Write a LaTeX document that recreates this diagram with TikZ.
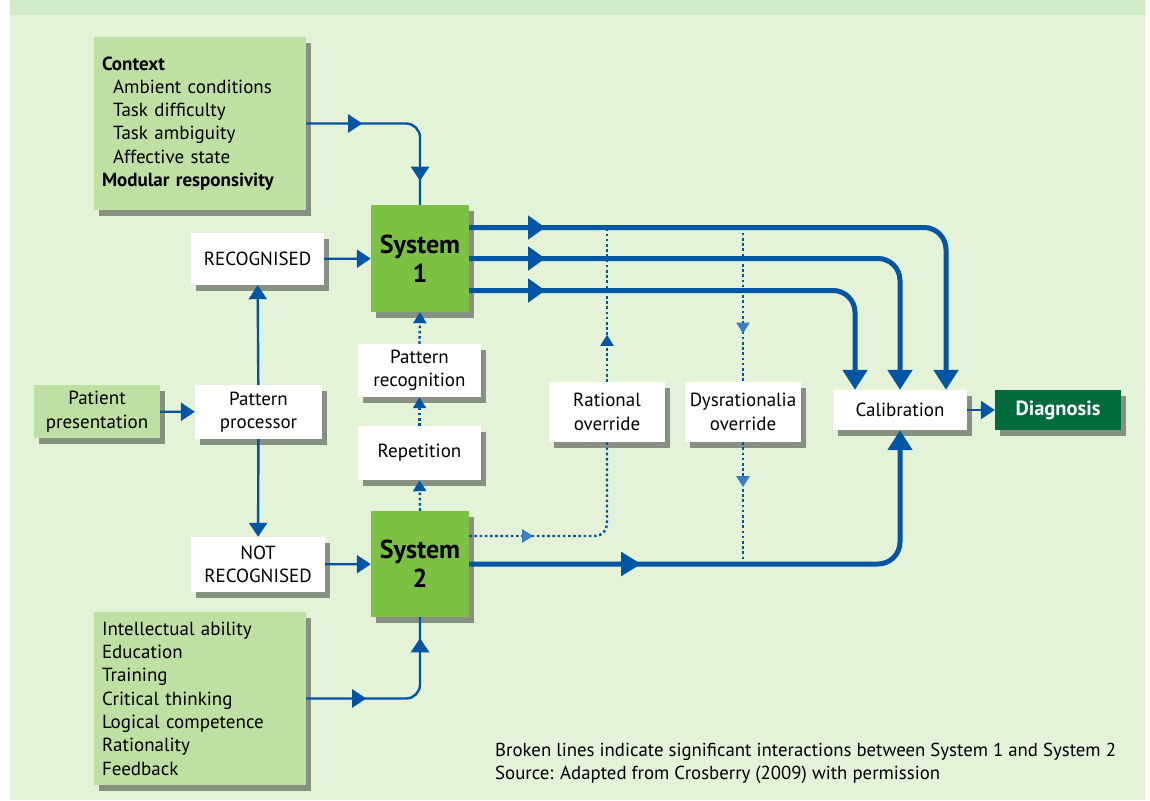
\documentclass[tikz,border=0pt]{standalone}
\usepackage{fontspec}
\setmainfont{PT Sans}
\usetikzlibrary{arrows.meta,shadows,decorations.markings,calc}
\definecolor{band}{HTML}{D0EBC8}
\definecolor{panel}{HTML}{E4F2D8}
\definecolor{lightgreen}{HTML}{BEE0A2}
\definecolor{sysgreen}{HTML}{7CC142}
\definecolor{diaggreen}{HTML}{006B3C}
\definecolor{myblue}{HTML}{0055A4}
\definecolor{paleblue}{HTML}{3B7DC4}
\tikzset{
  box/.style={fill=white, align=center, inner sep=2pt,
    drop shadow={shadow xshift=5pt, shadow yshift=-6pt, opacity=.4, fill=black}},
  lbox/.style={box, fill=lightgreen},
  sysbox/.style={box, fill=sysgreen, font=\fontsize{26}{29}\selectfont\bfseries},
  conn/.style={draw=myblue, line width=2.4pt},
  bigconn/.style={draw=myblue, line width=5pt},
  dotconn/.style={draw=myblue, line width=2.4pt, dash pattern=on 2.6pt off 2.6pt},
  smalltip/.style={-{Triangle[length=14pt,width=18pt]}},
  dottip/.style={-{Triangle[length=11pt,width=13pt]}},
  bigtip/.style={-{Triangle[length=20pt,width=24pt]}},
  markone/.style n args={2}{postaction={decorate},
    decoration={markings, mark=at position #1 with {\arrow{#2}}}},
  markonec/.style n args={3}{postaction={decorate},
    decoration={markings, mark=at position #1 with {\arrow[#3]{#2}}}},
  marktwo/.style n args={3}{postaction={decorate},
    decoration={markings, mark=at position #1 with {\arrow{#3}},
      mark=at position #2 with {\arrow{#3}}}},
}
\begin{document}
\begin{tikzpicture}[x=1pt,y=-1pt,font=\fontsize{19}{23.5}\selectfont]
\useasboundingbox (0,0) rectangle (1150,800);
\fill[white] (0,0) rectangle (1150,800);
\fill[panel] (10,0) rectangle (1145,800);
\fill[band] (10,0) rectangle (1145,15);

% nodes
\node[lbox, minimum width=212pt, minimum height=173pt, text width=196pt, align=left,
      font=\fontsize{19}{23.2}\selectfont] (ctx) at (200,123.5)
  {\textbf{Context}\\
   \hspace*{11pt}Ambient conditions\\
   \hspace*{11pt}Task difficulty\\
   \hspace*{11pt}Task ambiguity\\
   \hspace*{11pt}Affective state\\
   \textbf{Modular responsivity}};
\node[lbox, minimum width=212pt, minimum height=173pt, text width=196pt, align=left,
      font=\fontsize{19}{23.3}\selectfont] (abil) at (200,698.5)
  {Intellectual ability\\
   Education\\
   Training\\
   Critical thinking\\
   Logical competence\\
   Rationality\\
   Feedback};
\node[sysbox, minimum width=98pt, minimum height=107pt] (s1) at (420,258.5) {System\\1};
\node[sysbox, minimum width=98pt, minimum height=106pt] (s2) at (420,564) {System\\2};
\node[box, minimum width=133pt, minimum height=52pt] (rec) at (257.5,259) {RECOGNISED};
\node[box, minimum width=134pt, minimum height=55pt] (notrec) at (258,564.5) {NOT\\RECOGNISED};
\node[lbox, minimum width=126pt, minimum height=53pt] (pat) at (97,411.5) {Patient\\presentation};
\node[box, minimum width=127pt, minimum height=54pt] (pp) at (258.5,412) {Pattern\\processor};
\node[box, minimum width=123pt, minimum height=53pt] (patrec) at (419.5,370.5) {Pattern\\recognition};
\node[box, minimum width=123pt, minimum height=54pt] (rep) at (419.5,453) {Repetition};
\node[box, minimum width=116pt, minimum height=60pt] (rat) at (607,412) {Rational\\override};
\node[box, minimum width=116pt, minimum height=60pt] (dys) at (743,412) {Dysrationalia\\override};
\node[box, minimum width=134pt, minimum height=40pt] (cal) at (900,410) {Calibration};
\node[box, fill=diaggreen, text=white, font=\fontsize{20.5}{24}\selectfont\bfseries, minimum width=126pt, minimum height=40pt] (diag) at (1058,410) {Diagnosis};

\node[anchor=north west, align=left, inner sep=0pt, font=\fontsize{18.8}{23}\selectfont] (foot) at (495,743)
  {Broken lines indicate significant interactions between System 1 and System 2\\
   Source: Adapted from Crosberry (2009) with permission};

% coordinates
\coordinate (a1) at ($(s1.east)+(0,-31)$);
\coordinate (a2) at (s1.east);
\coordinate (a3) at ($(s1.east)+(0,32)$);
\coordinate (b1) at ($(s2.east)+(0,-28)$);

% thick System 1 outputs
\draw[bigconn, rounded corners=22pt, bigtip, markone={76pt}{Triangle[length=17pt,width=23pt]}]
  (a1) -| ($(cal.north)+(46,0)$);
\draw[bigconn, rounded corners=22pt, bigtip, markone={76pt}{Triangle[length=17pt,width=23pt]}]
  (a2) -| (cal.north);
\draw[bigconn, rounded corners=22pt, bigtip, markone={76pt}{Triangle[length=17pt,width=23pt]}]
  (a3) -| ($(cal.north)+(-45,0)$);
% thick System 2 output
\draw[bigconn, rounded corners=22pt, bigtip, markone={172pt}{Triangle[length=20pt,width=23pt]}]
  (s2.east) -| (cal.south);

% dotted interactions
\draw[dotconn, markone={47pt}{Triangle[length=11pt,width=13pt]}] (rat.north) -- (rat.north |- a1);
\draw[dotconn, markonec={106pt}{Triangle[length=11pt,width=13pt]}{paleblue}] (dys.north |- a1) -- (dys.north);
\draw[dotconn, rounded corners=12pt, markonec={64pt}{Triangle[length=11pt,width=13pt]}{paleblue}] (b1) -| (rat.south);
\draw[dotconn, markonec={45pt}{Triangle[length=11pt,width=13pt]}{paleblue}] (dys.south) -- (dys.south |- s2.east);
\draw[dotconn, dottip] (s2.north) -- (rep.south);
\draw[dotconn, dottip] (rep.north) -- (patrec.south);
\draw[dotconn, dottip] (patrec.north) -- (s1.south);

% thin connectors
\draw[conn, rounded corners=14pt, marktwo={56pt}{165pt}{Triangle[length=14pt,width=18pt]}]
  (ctx.east) -| (s1.north);
\draw[conn, rounded corners=14pt, marktwo={60pt}{168pt}{Triangle[length=14pt,width=18pt]}]
  (abil.east) -| (s2.south);
\draw[conn, smalltip] (rec) -- (s1);
\draw[conn, smalltip] (notrec) -- (s2);
\draw[conn, smalltip] (pat) -- (pp);
\draw[conn, smalltip] (pp) -- (rec);
\draw[conn, smalltip] (pp) -- (notrec);
\draw[conn, smalltip] (cal) -- (diag);
\end{tikzpicture}
\end{document}
